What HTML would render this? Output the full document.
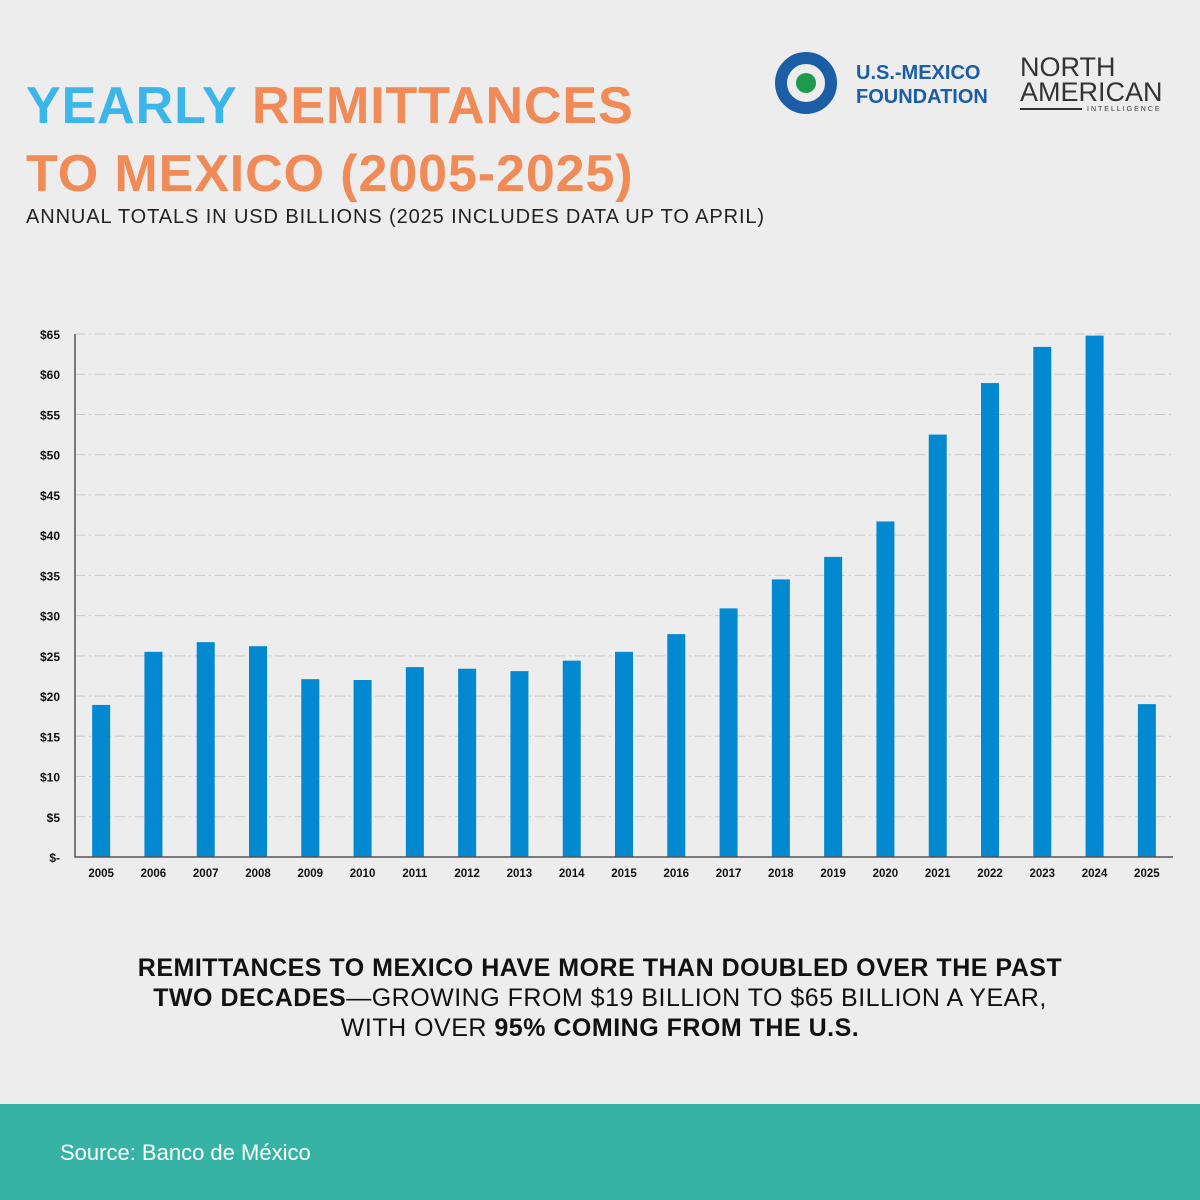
<!DOCTYPE html>
<html><head><meta charset="utf-8"><style>
body{margin:0;width:1200px;height:1200px;background:#ededed;font-family:"Liberation Sans",sans-serif;position:relative;overflow:hidden}
.abs{position:absolute}
h1{position:absolute;left:26px;top:72px;margin:0;font-size:52px;line-height:68px;font-weight:bold;color:#f08a56;letter-spacing:0.9px}
.sub{left:26px;top:206px;font-size:20px;color:#222;letter-spacing:0.9px}
.note{left:0;width:1200px;top:953px;text-align:center;font-size:25px;line-height:30px;color:#111;letter-spacing:0.5px}
.foot{left:0;top:1104px;width:1200px;height:96px;background:#37b3a5}
</style></head><body>
<h1><span style="color:#3bb5ea">YEARLY</span> REMITTANCES<br>TO MEXICO (2005-2025)</h1>
<div class="abs sub">ANNUAL TOTALS IN USD BILLIONS (2025 INCLUDES DATA UP TO APRIL)</div>
<svg class="abs" style="left:775px;top:52px" width="420" height="70">
<circle cx="31" cy="31" r="25" fill="none" stroke="#1b5ea6" stroke-width="12"/>
<circle cx="31" cy="31" r="10" fill="#1e9a4f"/>
<text x="81" y="27" font-size="20" font-weight="bold" fill="#1b5ea6">U.S.-MEXICO</text>
<text x="81" y="51" font-size="20" font-weight="bold" fill="#1b5ea6">FOUNDATION</text>
<text x="245" y="24" font-size="27" fill="#333">NORTH</text>
<text x="245" y="49" font-size="27" fill="#333">AMERICAN</text>
<rect x="245" y="56" width="62" height="2" fill="#333"/>
<text x="312" y="59" font-size="7" fill="#333" letter-spacing="2">INTELLIGENCE</text>
</svg>
<svg id="chart" class="abs" style="left:0;top:0" width="1200" height="900"></svg>
<div class="abs note"><b>REMITTANCES TO MEXICO HAVE MORE THAN DOUBLED OVER THE PAST<br>TWO DECADES</b>—GROWING FROM $19 BILLION TO $65 BILLION A YEAR,<br>WITH OVER <b>95% COMING FROM THE U.S.</b></div>
<div class="abs foot"><div style="position:absolute;left:60px;top:36px;color:#fff;font-size:22px">Source: Banco de México</div></div>
<script>
const years=["2005","2006","2007","2008","2009","2010","2011","2012","2013","2014","2015","2016","2017","2018","2019","2020","2021","2022","2023","2024","2025"];
const values=[18.9,25.5,26.7,26.2,22.1,22.0,23.6,23.4,23.1,24.4,25.5,27.7,30.9,34.5,37.3,41.7,52.5,58.9,63.4,64.8,19.0];
const ticks=[0,5,10,15,20,25,30,35,40,45,50,55,60,65];
const tickLabels=["$-","$5","$10","$15","$20","$25","$30","$35","$40","$45","$50","$55","$60","$65"];
const svg=document.getElementById('chart'),NS="http://www.w3.org/2000/svg";
const L=75,R=1173,B=857,T=334,yMax=65;
const y=v=>B-(v/yMax)*(B-T);
const slot=(R-L)/years.length;
const x=i=>L+slot*(i+0.5);
function mk(t,a){const e=document.createElementNS(NS,t);for(const k in a)e.setAttribute(k,a[k]);svg.appendChild(e);return e;}
ticks.forEach((t,i)=>{
 if(t>0){const g=mk('line',{x1:L,x2:R,y1:y(t),y2:y(t),stroke:'#c8c8c8','stroke-dasharray':'10 4 2 4'});
 
 }
 const tx=mk('text',{x:60,y:y(t)+5,'text-anchor':'end','font-size':12,'font-weight':'bold',fill:'#111'});
 tx.textContent=tickLabels[i];
 
 
});
values.forEach((v,i)=>{
 const r=mk('rect',{x:x(i)-9,y:y(v),width:18,height:B-y(v),fill:'#0389cf'});
 
 
 const tx=mk('text',{x:x(i),y:877,'text-anchor':'middle','font-size':11.5,'font-weight':'bold',fill:'#111'});
 tx.textContent=years[i];
 
 
});
const ax=mk('polyline',{points:`${L},${T} ${L},${B} ${R},${B}`,fill:'none',stroke:'#555','stroke-width':1.5});


</script>
</body></html>
